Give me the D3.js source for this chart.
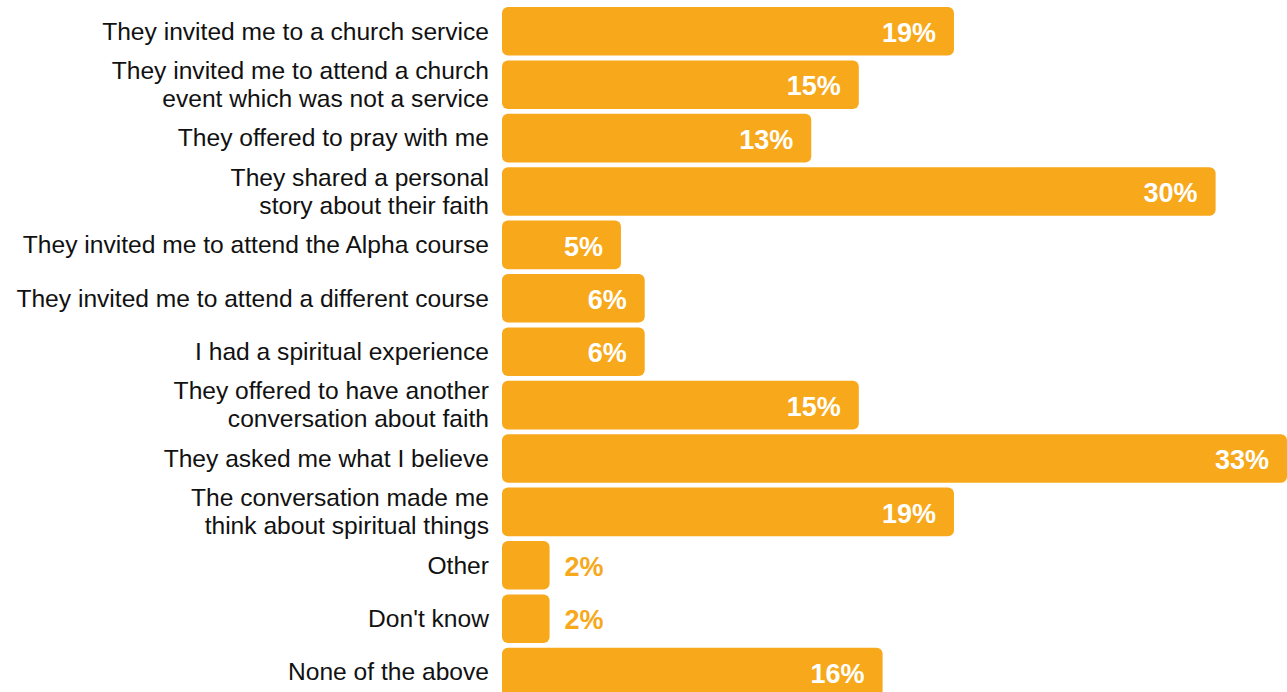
<!DOCTYPE html>
<html>
<head>
<meta charset="utf-8">
<script src="https://cdn.jsdelivr.net/npm/d3@7"></script>
<style>
  html, body { margin: 0; padding: 0; background: #fff; overflow: hidden; }
  svg { display: block; }
</style>
</head>
<body>
<svg id="chart" width="1287" height="692"></svg>
<script>
const categories = [
  ["They invited me to a church service"],
  ["They invited me to attend a church", "event which was not a service"],
  ["They offered to pray with me"],
  ["They shared a personal", "story about their faith"],
  ["They invited me to attend the Alpha course"],
  ["They invited me to attend a different course"],
  ["I had a spiritual experience"],
  ["They offered to have another", "conversation about faith"],
  ["They asked me what I believe"],
  ["The conversation made me", "think about spiritual things"],
  ["Other"],
  ["Don't know"],
  ["None of the above"]
];
const values = [19, 15, 13, 30, 5, 6, 6, 15, 33, 19, 2, 2, 16];
const valueLabels = ["19%", "15%", "13%", "30%", "5%", "6%", "6%", "15%", "33%", "19%", "2%", "2%", "16%"];

const W = 1287, H = 692;
const barColor = "#F7A81B";
const svg = d3.select("#chart");

const idx = d3.range(categories.length);
const step = 53.4;
const y = d3.scaleBand()
  .domain(idx)
  .range([7 - 0.045 * step, 7 - 0.045 * step + categories.length * step])
  .paddingInner(0.09)
  .paddingOuter(0.045);

const x = d3.scaleLinear().domain([0, 33]).range([502, 1287]);

const labelFont = "'Liberation Sans', Arial, sans-serif";
const labelSize = 24.6;

// bars
svg.append("g").selectAll("rect")
  .data(idx)
  .join("rect")
  .attr("x", x(0))
  .attr("y", i => y(i))
  .attr("width", i => x(values[i]) - x(0))
  .attr("height", y.bandwidth())
  .attr("rx", 6).attr("ry", 6)
  .attr("fill", barColor);

// value labels
svg.append("g").selectAll("text")
  .data(idx)
  .join("text")
  .attr("x", i => values[i] < 3 ? x(values[i]) + 15 : x(values[i]) - 18)
  .attr("y", i => y(i) + y.bandwidth() / 2 + 1)
  .attr("dy", "0.36em")
  .attr("text-anchor", i => values[i] < 3 ? "start" : "end")
  .attr("fill", i => values[i] < 3 ? barColor : "#fff")
  .style("font-family", "'Liberation Sans', Arial, sans-serif")
  .style("font-weight", "700")
  .style("font-size", "27px")
  .text(i => valueLabels[i]);

// category labels
const cat = svg.append("g").selectAll("text")
  .data(idx)
  .join("text")
  .attr("x", 489)
  .attr("y", i => y(i) + y.bandwidth() / 2)
  .attr("text-anchor", "end")
  .attr("fill", "#111")
  .style("font-family", labelFont)
  .style("font-size", labelSize + "px");

cat.each(function(i) {
  const lines = categories[i];
  const lh = 28;
  const t = d3.select(this);
  lines.forEach((ln, k) => {
    t.append("tspan")
      .attr("x", 489)
      .attr("dy", k === 0 ? ((-(lines.length - 1) / 2) * lh / labelSize + 0.34) + "em" : (lh / labelSize) + "em")
      .text(ln);
  });
});
</script>
</body>
</html>
